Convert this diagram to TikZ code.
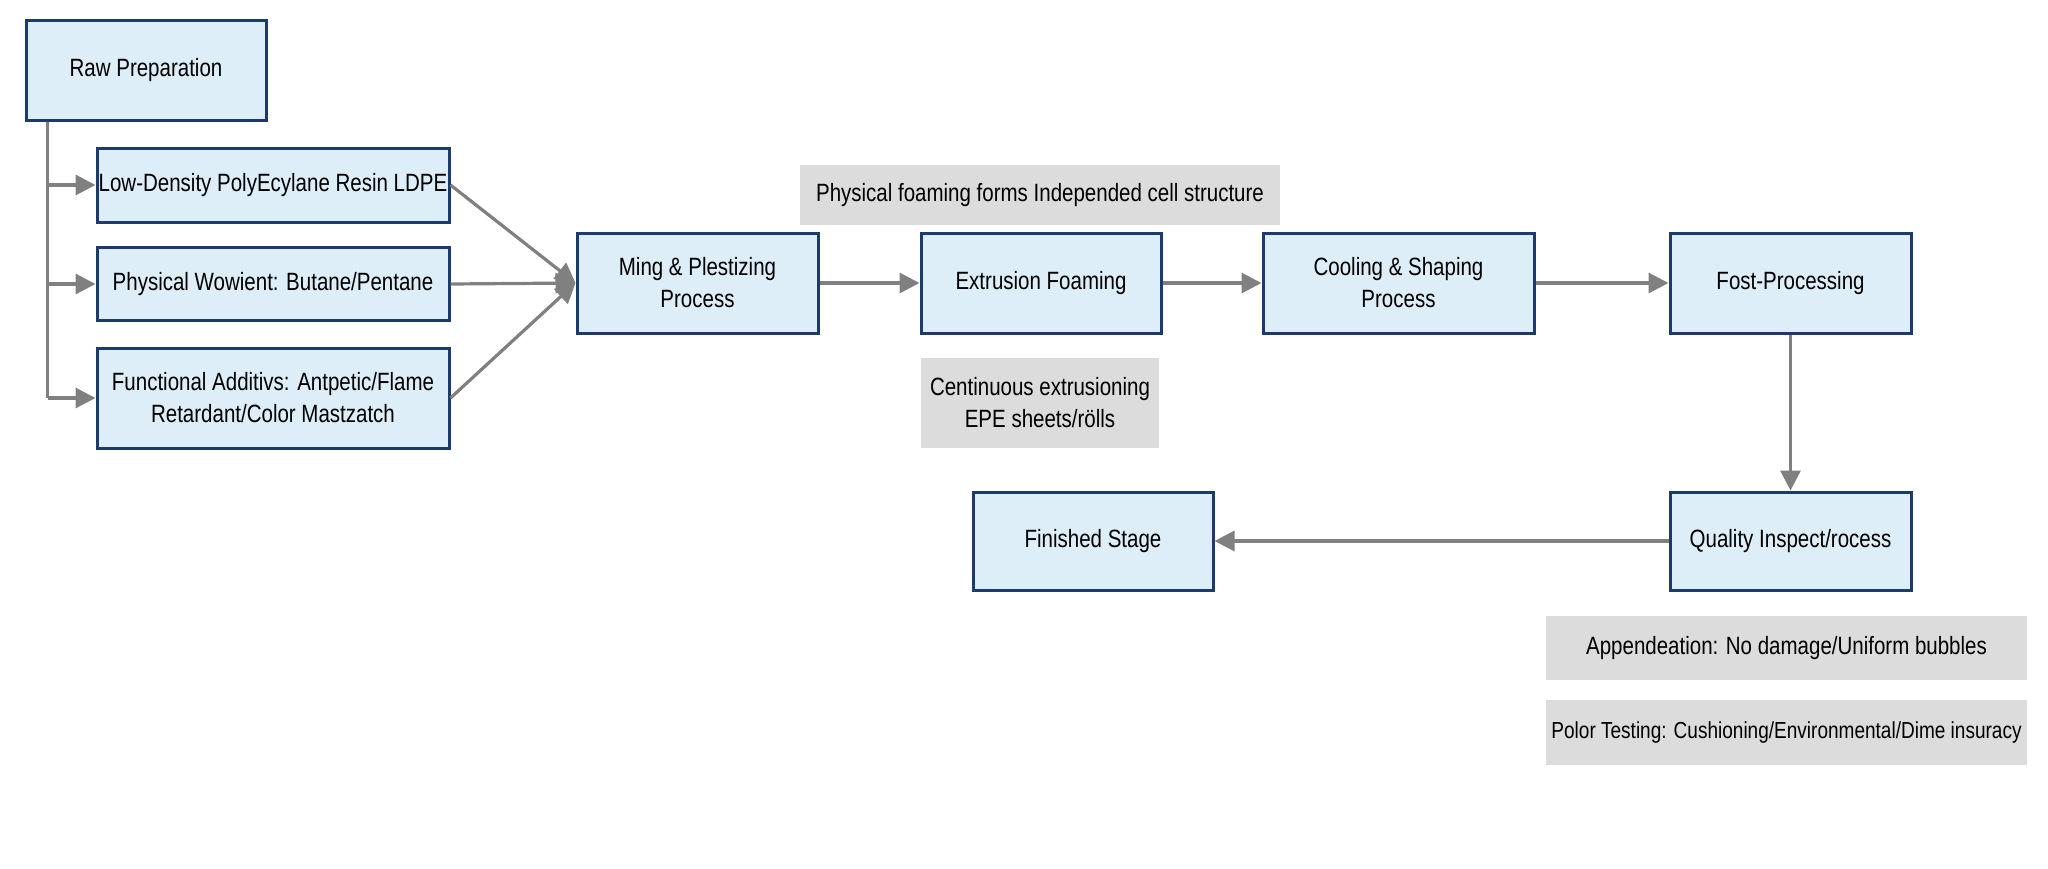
\documentclass[tikz,border=0pt]{standalone}
\usepackage{fontspec}
\setmainfont{Liberation Sans}[FakeStretch=0.82]
\usetikzlibrary{arrows.meta,calc}
\definecolor{boxfill}{HTML}{DDEEF8}
\definecolor{boxdraw}{HTML}{1C3A6E}
\definecolor{arrowgray}{HTML}{808080}
\definecolor{notefill}{HTML}{DCDCDC}
\tikzset{
  stagebox/.style={draw=boxdraw, fill=boxfill, line width=1.5pt, align=center,
    inner sep=0pt, font=\fontsize{12.5}{16}\selectfont},
  notebox/.style={fill=notefill, draw=none, align=center, inner sep=0pt,
    font=\fontsize{12.5}{16}\selectfont},
  flowline/.style={draw=arrowgray, line width=1.6pt},
  flow/.style={flowline, -{Triangle[length=10pt,width=10pt]}}
}
\begin{document}
\begin{tikzpicture}[x=0.5pt,y=-0.5pt]
\useasboundingbox[fill=white] (0,0) rectangle (2048,868);

% stage boxes
\node[stagebox, minimum width=120pt, minimum height=50pt] (raw) at (146,70) {Raw Preparation};
\node[stagebox, minimum width=176pt, minimum height=37pt] (ldpe) at (273,185) {Low-Density PolyEcylane Resin LDPE};
\node[stagebox, minimum width=176pt, minimum height=36.5pt] (wow) at (273,284) {Physical Wowient: Butane/Pentane};
\node[stagebox, minimum width=176pt, minimum height=50pt] (func) at (273,398) {Functional Additivs: Antpetic/Flame\\Retardant/Color Mastzatch};
\node[stagebox, minimum width=120.5pt, minimum height=50pt] (ming) at (697.5,283) {Ming \& Plestizing\\Process};
\node[stagebox, minimum width=120pt, minimum height=50pt] (ext) at (1041,283) {Extrusion Foaming};
\node[stagebox, minimum width=135.5pt, minimum height=50pt] (cool) at (1398.5,283) {Cooling \& Shaping\\Process};
\node[stagebox, minimum width=120.5pt, minimum height=50pt] (fost) at (1790.5,283) {Fost-Processing};
\node[stagebox, minimum width=120.5pt, minimum height=49pt] (qual) at (1790.5,541) {Quality Inspect/rocess};
\node[stagebox, minimum width=120pt, minimum height=49pt] (fin) at (1093,541) {Finished Stage};

% note boxes
\node[notebox, minimum width=240pt, minimum height=30pt] (phys) at (1040,195) {Physical foaming forms Independed cell structure};
\node[notebox, minimum width=119pt, minimum height=45pt] (cont) at (1040,403) {Centinuous extrusioning\\EPE sheets/rölls};
\node[notebox, minimum width=240.5pt, minimum height=32pt] (app) at (1786.5,648) {Appendeation: No damage/Uniform bubbles};
\node[notebox, minimum width=240.5pt, minimum height=32.5pt, font=\fontsize{11.6}{15}\selectfont] (pol) at (1786.5,732.5) {Polor Testing: Cushioning/Environmental/Dime insuracy};

% raw material tree
\coordinate (tr) at ($(raw.south west)+(23,0)$);
\draw[flowline] (tr) -- (tr |- func.west);
\draw[flow] (tr |- ldpe.west) -- (ldpe.west);
\draw[flow] (tr |- wow.west) -- (wow.west);
\draw[flow] (tr |- func.west) -- (func.west);

% converging
\draw[flow] (ldpe.east) -- (ming.west);
\draw[flow] (wow.east) -- (ming.west);
\draw[flow] (func.east) -- (ming.west);

% main flow
\draw[flow] (ming.east) -- (ext.west);
\draw[flow] (ext.east) -- (cool.west);
\draw[flow] (cool.east) -- (fost.west);
\draw[flow] (fost.south) -- (qual.north);
\draw[flow] (qual.west) -- (fin.east);
\end{tikzpicture}
\end{document}
